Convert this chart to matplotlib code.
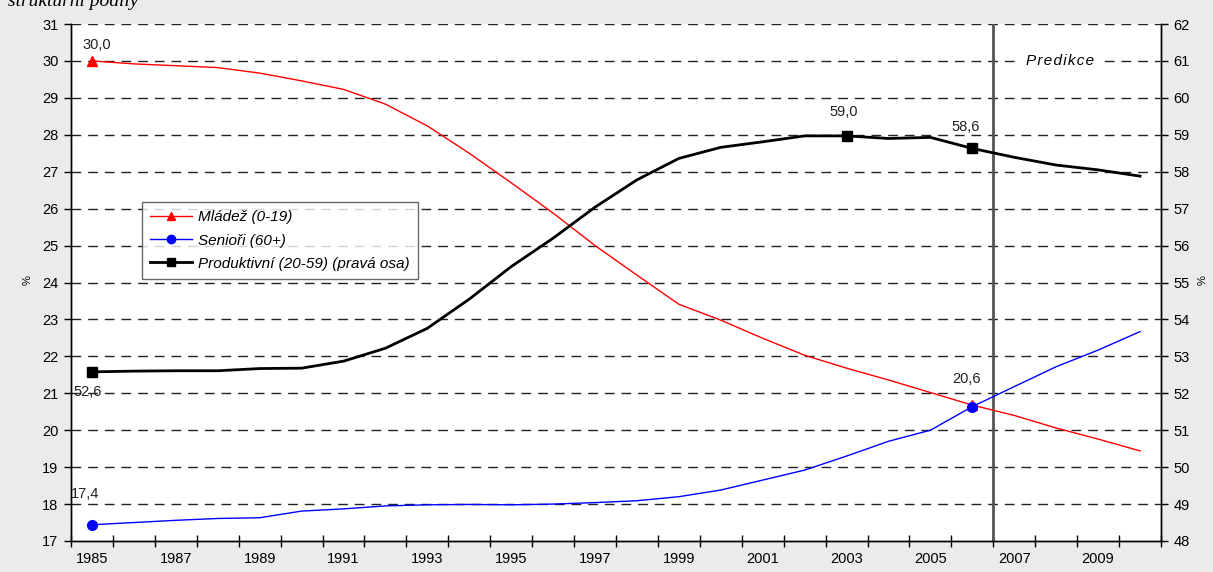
import matplotlib
matplotlib.use("Agg")
import matplotlib.pyplot as plt
from matplotlib.ticker import FixedLocator, NullFormatter

plt.rcParams['font.family'] = ['Liberation Sans', 'DejaVu Sans']

years = list(range(1985, 2011))
mladez = [30.0, 29.92, 29.87, 29.82, 29.67, 29.46, 29.23, 28.83, 28.24, 27.5,
          26.7, 25.88, 25.0, 24.2, 23.41, 22.98, 22.49, 22.03, 21.68, 21.36,
          21.02, 20.68, 20.4, 20.06, 19.76, 19.44]
seniori = [17.44, 17.5, 17.56, 17.61, 17.63, 17.81, 17.87, 17.95, 17.98, 17.99,
           17.98, 18.0, 18.04, 18.09, 18.2, 18.38, 18.65, 18.92, 19.3, 19.7,
           20.0, 20.64, 21.18, 21.72, 22.17, 22.67]
produktivni = [52.58, 52.6, 52.61, 52.61, 52.67, 52.68, 52.87, 53.22, 53.76, 54.55,
               55.43, 56.2, 57.04, 57.78, 58.36, 58.66, 58.81, 58.97, 58.97, 58.9,
               58.93, 58.63, 58.39, 58.18, 58.05, 57.88]
tick_labels = [str(y) for y in range(1985, 2010, 2)]
left_ticks = list(range(17, 32))
right_ticks = list(range(48, 63))
names = ['Mládež (0-19)', 'Senioři (60+)', 'Produktivní (20-59) (pravá osa)']

W, H = 1213, 572
fig = plt.figure(figsize=(W / 100, H / 100), dpi=100, facecolor='#ebebeb')
ax = fig.add_axes([71 / W, 1 - 541 / H, (1161 - 71) / W, (541 - 24) / H])
ax.set_facecolor('white')
ax2 = ax.twinx()

x = list(range(len(years)))

ax.set_xlim(-0.5, len(years) - 0.5)
ax.set_ylim(17, 31)
ax2.set_ylim(48, 62)

# gridlines
for v in left_ticks[1:]:
    ax.axhline(v, color='#222222', lw=1.0, dashes=(7, 5), zorder=0.5)

l1, = ax.plot(x, mladez, color='#ff0000', lw=1.0, zorder=3)
l2, = ax.plot(x, seniori, color='#0000ff', lw=1.0, zorder=3)
l3, = ax2.plot(x, produktivni, color='black', lw=2.0, zorder=3)

mark_m = [0, 21]
mark_s = [0, 21]
mark_p = [0, 18, 21]
ax.plot([x[i] for i in mark_m], [mladez[i] for i in mark_m], ls='none', marker='^',
        ms=7, color='#ff0000', zorder=4)
ax.plot([x[i] for i in mark_s], [seniori[i] for i in mark_s], ls='none', marker='o',
        ms=7, color='#0000ff', zorder=4)
ax2.plot([x[i] for i in mark_p], [produktivni[i] for i in mark_p], ls='none', marker='s',
         ms=7, color='black', zorder=4)

# prediction separator
ax.axvline(21.5, color='#555555', lw=2.0, zorder=2)
ax.text(23.1, 30.0, 'P r e d i k c e'.replace(' ', '\u200a'), fontsize=11, style='italic',
        ha='center', va='center', zorder=5,
        bbox=dict(facecolor='white', edgecolor='none', pad=4))

def lab(a, xi, yi, txt, dx, dy):
    a.annotate(txt, (xi, yi), xytext=(dx, dy), textcoords='offset pixels',
               ha='center', va='center', fontsize=10.5, color='#222222', zorder=5)

lab(ax, 0, mladez[0], '30,0', 5, 16)
lab(ax, 0, seniori[0], '17,4', -7, 31)
lab(ax2, 0, produktivni[0], '52,6', -4, -20)
lab(ax2, 18, produktivni[18], '59,0', -3, 24)
lab(ax2, 21, produktivni[21], '58,6', -7, 21)
lab(ax, 21, mladez[21], '20,6', -6, 26)

# axes styling
for a in (ax, ax2):
    a.spines['top'].set_visible(False)
    for s in ('left', 'right', 'bottom'):
        a.spines[s].set_color('black')
        a.spines[s].set_linewidth(1.0)

ax.set_yticks(left_ticks)
ax.set_yticklabels([str(v) for v in left_ticks], fontsize=10.5)
ax2.set_yticks(right_ticks)
ax2.set_yticklabels([str(v) for v in right_ticks], fontsize=10.5)
ax.tick_params(axis='y', direction='out', length=5, width=1, pad=4)
ax2.tick_params(axis='y', direction='out', length=5, width=1, pad=4)

ax.xaxis.set_major_locator(FixedLocator([i - 0.5 for i in range(len(years) + 1)]))
ax.xaxis.set_major_formatter(NullFormatter())
ax.xaxis.set_minor_locator(FixedLocator(list(range(0, len(years) - 1, 2))))
ax.set_xticklabels(tick_labels, minor=True, fontsize=10.5)
ax.tick_params(axis='x', which='major', direction='inout', length=8, width=1)
ax.tick_params(axis='x', which='minor', length=0, pad=8)

fig.text(28 / W, 1 - 280 / H, '%', rotation=90, ha='center', va='center', fontsize=8)
fig.text(1203 / W, 1 - 280 / H, '%', rotation=90, ha='center', va='center', fontsize=8)

fig.text(8 / W, 1 - 6 / H, 'strukturní podíly', fontsize=14, style='italic',
         family='Liberation Serif', ha='left', va='baseline')

leg = ax2.legend([l1, l2, l3], names, loc='upper left',
                 bbox_to_anchor=(142 / W, 1 - 202 / H), bbox_transform=fig.transFigure,
                 borderaxespad=0, frameon=True, fancybox=False,
                 handlelength=2.7, labelspacing=0.6, borderpad=0.55, handletextpad=0.4,
                 prop={'style': 'italic', 'size': 11})
# add markers into legend handles
for h, m, c in zip(leg.legend_handles, ['^', 'o', 's'], ['#ff0000', '#0000ff', 'black']):
    h.set_marker(m)
    h.set_markersize(6)
    h.set_markerfacecolor(c)
    h.set_markeredgecolor(c)
leg.get_frame().set_edgecolor('#444444')
leg.get_frame().set_linewidth(1.0)
leg.set_zorder(10)

fig.savefig('out.png', dpi=100, facecolor=fig.get_facecolor())
